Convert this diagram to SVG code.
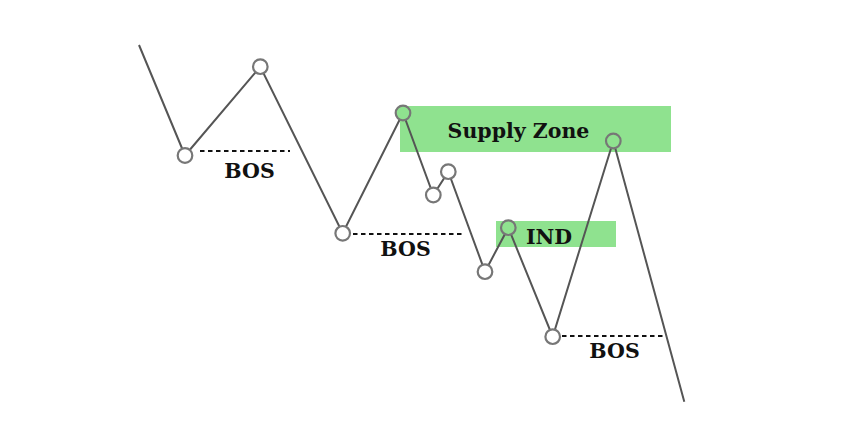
<svg xmlns="http://www.w3.org/2000/svg" width="844" height="434" viewBox="0 0 844 434">
<style>
.zone{fill:#8fe28f}
.price{fill:none;stroke:#555;stroke-width:2;stroke-linejoin:miter}
.bos{stroke:#111;stroke-width:2;stroke-dasharray:4.5 3.5}
.pt{fill:#fff;stroke:#777;stroke-width:2.2}
.pt.g{fill:#8fe28f}
text{font-family:"DejaVu Serif","Liberation Serif",serif;font-weight:bold;font-size:20.5px;fill:#111}
</style>
<rect width="844" height="434" fill="#fff"/>
<g id="supply-zone"><rect class="zone" x="400" y="106" width="271" height="46"/><text x="518.5" y="138" text-anchor="middle">Supply Zone</text></g>
<g id="ind-zone"><rect class="zone" x="496" y="221" width="120" height="26"/><text x="549" y="243.5" text-anchor="middle">IND</text></g>
<g id="connectors">
<polyline class="price" points="139,45 185,155.5 260.3,66.7 342.7,233.3 403,113 433.3,195 448.3,171.7 485,271.7 508.3,227.7 552.7,336.7 613.3,141 684.3,401.7"/>
<line class="bos" x1="200" y1="151" x2="290" y2="151"/>
<line class="bos" x1="353" y1="234" x2="462" y2="234"/>
<line class="bos" x1="562" y1="336" x2="663" y2="336"/>
</g>
<g id="bos1"><text x="249.5" y="178" text-anchor="middle">BOS</text></g>
<g id="bos2"><text x="405.5" y="256" text-anchor="middle">BOS</text></g>
<g id="bos3"><text x="614.5" y="358" text-anchor="middle">BOS</text></g>
<g id="p1"><circle class="pt" cx="185" cy="155.5" r="7.3"/></g>
<g id="p2"><circle class="pt" cx="260.3" cy="66.7" r="7.3"/></g>
<g id="p3"><circle class="pt" cx="342.7" cy="233.3" r="7.3"/></g>
<g id="p4"><circle class="pt g" cx="403" cy="113" r="7.3"/></g>
<g id="p5"><circle class="pt" cx="433.3" cy="195" r="7.3"/></g>
<g id="p6"><circle class="pt" cx="448.3" cy="171.7" r="7.3"/></g>
<g id="p7"><circle class="pt" cx="485" cy="271.7" r="7.3"/></g>
<g id="p8"><circle class="pt g" cx="508.3" cy="227.7" r="7.3"/></g>
<g id="p9"><circle class="pt" cx="552.7" cy="336.7" r="7.3"/></g>
<g id="p10"><circle class="pt g" cx="613.3" cy="141" r="7.3"/></g>
</svg>
